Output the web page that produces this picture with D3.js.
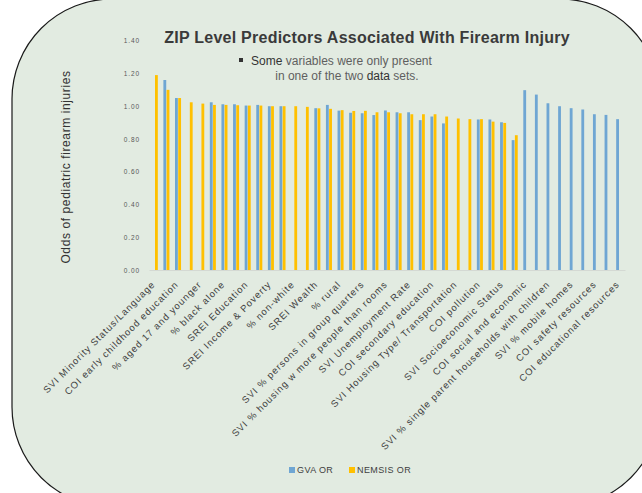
<!DOCTYPE html>
<html>
<head>
<meta charset="utf-8">
<script src="https://cdn.jsdelivr.net/npm/d3@7"></script>
<style>
body { margin: 0; background: #fff; }
svg { display: block; font-family: "Liberation Sans", Arial, sans-serif; }
</style>
</head>
<body>
<svg id="chart"></svg>
<script>
// predictors, only every other one carries a visible label in the original
var categories = [
  "SVI Minority Status/Language", "",
  "COI early childhood education", "",
  "% aged 17 and younger", "",
  "% black alone", "",
  "SREI Education", "",
  "SREI Income & Poverty", "",
  "% non-white", "",
  "SREI Wealth", "",
  "% rural", "",
  "SVI % persons in group quarters", "",
  "SVI % housing w more people than rooms", "",
  "SVI Unemployment Rate", "",
  "COI secondary education", "",
  "SVI Housing Type/ Transportation", "",
  "COI pollution", "",
  "SVI Socioeconomic Status", "",
  "COI social and economic", "",
  "SVI % single parent households with children", "",
  "SVI % mobile homes", "",
  "COI safety resources", "",
  "COI educational resources"
];

// odds ratios (null = variable not in that data set)
var gvaOR = [null, 1.16, 1.05, null, null, 1.024, 1.012, 1.012, 1.004, 1.008,
  1.00, 1.00, null, null, 0.988, 1.008, 0.973, 0.96, 0.957, 0.946,
  0.974, 0.963, 0.963, 0.915, 0.937, 0.895, null, null, 0.919, 0.919,
  0.902, 0.793, 1.098, 1.071, 1.018, 1.00, 0.988, 0.98, 0.951, 0.947, 0.921];

var nemsisOR = [1.19, 1.10, 1.05, 1.024, 1.016, 1.008, 1.008, 1.006, 1.004, 1.004,
  1.00, 1.00, 1.00, 0.996, 0.987, 0.984, 0.976, 0.971, 0.972, 0.963,
  0.963, 0.957, 0.951, 0.951, 0.951, 0.937, 0.925, 0.921, 0.921, 0.906,
  0.898, 0.823, null, null, null, null, null, null, null, null, null];

var yTicks = [0, 0.2, 0.4, 0.6, 0.8, 1.0, 1.2, 1.4];
var seriesKeys = ["gva", "nemsis"];
var seriesNames = ["GVA OR", "NEMSIS OR"];
var seriesColors = ["#6fa6d3", "#ffc000"];

var width = 642,
    height = 493;

var svg = d3.select("#chart")
            .attr("width", width)
            .attr("height", height);

// rounded card behind everything
svg.append("rect")
    .attr("x", 12).attr("y", -1)
    .attr("width", 648).attr("height", 508)
    .attr("rx", 100).attr("ry", 100)
    .attr("fill", "#e2ebe1")
    .attr("stroke", "#1a1a1a")
    .attr("stroke-width", 1.2);

var x0 = d3.scaleBand()
            .domain(d3.range(categories.length))
            .range([149, 625])
            .paddingInner(0.48)
            .paddingOuter(0.24);

var x1 = d3.scaleBand()
            .domain(seriesKeys)
            .range([0, x0.bandwidth()])
            .paddingInner(0.12);

var y = d3.scaleLinear()
            .domain([0, 1.4])
            .range([270, 40.7]);

var color = d3.scaleOrdinal().domain(seriesKeys).range(seriesColors);

var rows = categories.map((c, i) => ({ i: i, gva: gvaOR[i], nemsis: nemsisOR[i] }));

// y axis (labels only)
var yAxis = svg.append("g")
    .attr("transform", "translate(143,0)")
    .call(d3.axisLeft(y).tickValues(yTicks).tickFormat(d3.format(".2f")).tickSize(0).tickPadding(3));
yAxis.select(".domain").remove();
yAxis.selectAll("text")
    .attr("font-size", "6.5px")
    .attr("letter-spacing", "0.9px")
    .attr("font-family", "\"Liberation Sans\", Arial, sans-serif")
    .attr("fill", "#595959");

// bars
var groups = svg.append("g").selectAll("g")
    .data(rows)
    .enter()
    .append("g")
      .attr("transform", d => "translate(" + x0(d.i) + ",0)");

groups.selectAll("rect")
    .data(d => seriesKeys.filter(k => d[k] != null).map(k => ({ key: k, value: d[k] })))
    .enter()
    .append("rect")
      .attr("x", d => x1(d.key))
      .attr("y", d => y(d.value))
      .attr("width", x1.bandwidth())
      .attr("height", d => y(0) - y(d.value))
      .attr("fill", d => color(d.key));

// x axis
var xAxis = svg.append("g")
    .attr("transform", "translate(0,270)")
    .call(d3.axisBottom(x0).tickSize(0).tickSizeOuter(0).tickFormat(i => categories[i]));
xAxis.select(".domain").attr("stroke", "#d4d9d3").attr("stroke-width", 1);
xAxis.selectAll("text")
    .attr("x", 0).attr("y", 0).attr("dy", 0)
    .attr("text-anchor", "end")
    .attr("transform", "translate(1,15) rotate(-45)")
    .attr("font-size", "9.5px")
    .attr("letter-spacing", "1px")
    .attr("font-family", "\"Liberation Sans\", Arial, sans-serif")
    .attr("fill", "#404040");

// y title
svg.append("text")
    .attr("transform", "translate(70,167) rotate(-90)")
    .attr("text-anchor", "middle")
    .attr("font-size", "12px")
    .attr("letter-spacing", "0.6px")
    .attr("fill", "#333")
    .text("Odds of pediatric firearm injuries");

// title
svg.append("text")
    .attr("x", 367).attr("y", 42.7)
    .attr("text-anchor", "middle")
    .attr("font-size", "16px")
    .attr("letter-spacing", "0.25px")
    .attr("font-weight", "bold")
    .attr("fill", "#3a3a3a")
    .text("ZIP Level Predictors Associated With Firearm Injury");

// note with bullet
svg.append("rect")
    .attr("x", 239).attr("y", 58).attr("width", 4).attr("height", 4)
    .attr("fill", "#333");

var note1 = svg.append("text")
    .attr("x", 341.5).attr("y", 64.5)
    .attr("text-anchor", "middle")
    .attr("font-size", "12px")
    .attr("fill", "#5f5f5f");
note1.append("tspan").attr("fill", "#333").text("Some");
note1.append("tspan").text(" variables were only present");

var note2 = svg.append("text")
    .attr("x", 347).attr("y", 79.5)
    .attr("text-anchor", "middle")
    .attr("font-size", "12px")
    .attr("fill", "#5f5f5f");
note2.append("tspan").text("in one of the two ");
note2.append("tspan").attr("fill", "#333").text("data");
note2.append("tspan").text(" sets.");

// legend
var legend = svg.append("g").selectAll("g")
    .data(seriesKeys)
    .enter()
    .append("g")
      .attr("transform", (d, i) => "translate(" + (289 + i * 60) + ",467)");

legend.append("rect")
    .attr("width", 6).attr("height", 6)
    .attr("fill", d => color(d));

legend.append("text")
    .attr("x", 8).attr("y", 6)
    .attr("font-size", "9px")
    .attr("letter-spacing", "0.4px")
    .attr("fill", "#404040")
    .text((d, i) => seriesNames[i]);
</script>
</body>
</html>
